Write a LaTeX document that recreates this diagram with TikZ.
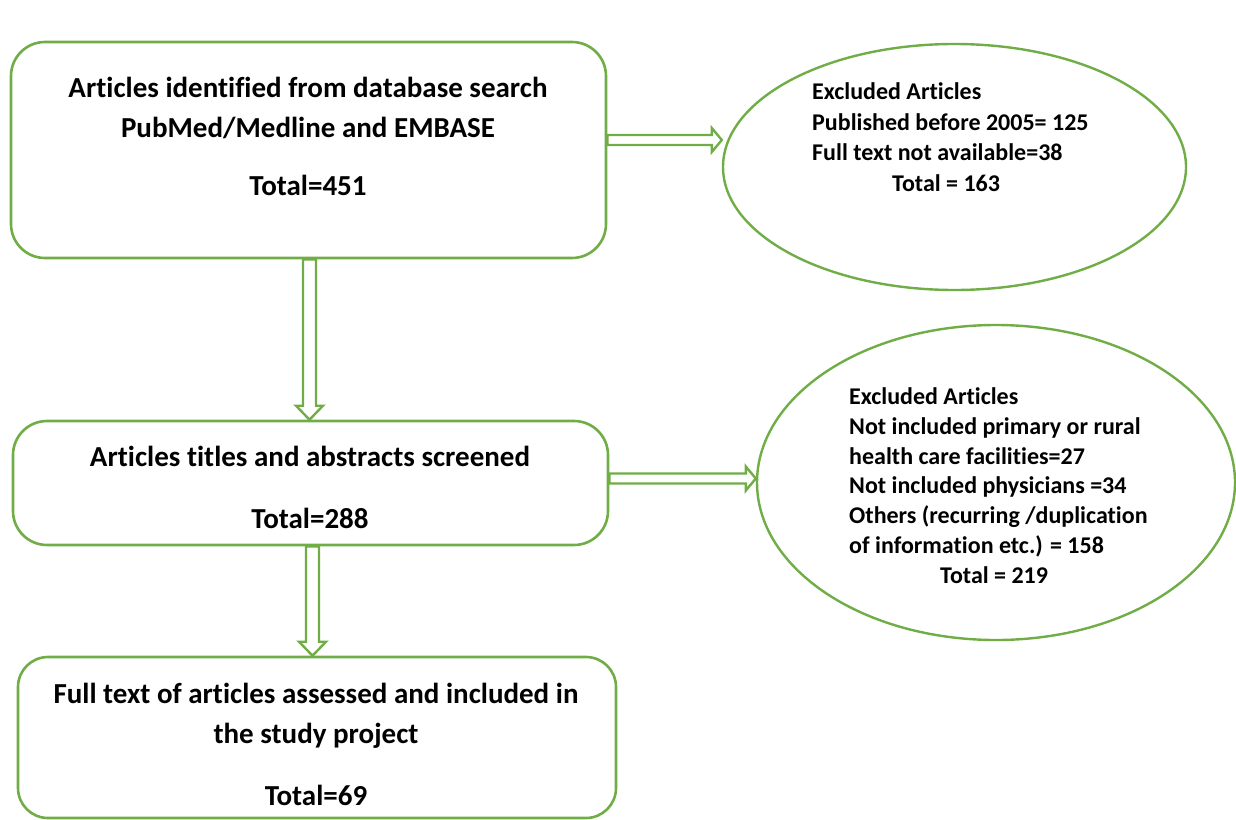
\documentclass[tikz,border=0pt]{standalone}
\usepackage{fontspec}
\setmainfont[Ligatures=NoCommon]{Carlito}
\usetikzlibrary{shapes.geometric,calc}
\definecolor{flowgreen}{RGB}{112,173,71}

% hollow block arrows between two named points
\newcommand{\hollowright}[2]{%
  \draw[hollowarrow] let \p1=(#1), \p2=(#2) in
    (\x1,\y1+5pt) -- (\x2-10pt,\y1+5pt) -- (\x2-10pt,\y1+12pt) -- (\x2,\y1)
    -- (\x2-10pt,\y1-12pt) -- (\x2-10pt,\y1-5pt) -- (\x1,\y1-5pt) -- cycle;}
\newcommand{\hollowdown}[2]{%
  \draw[hollowarrow] let \p1=(#1), \p2=(#2) in
    (\x1-6.5pt,\y1) -- (\x1-6.5pt,\y2+14pt) -- (\x1-13.5pt,\y2+14pt) -- (\x1,\y2)
    -- (\x1+13.5pt,\y2+14pt) -- (\x1+6.5pt,\y2+14pt) -- (\x1+6.5pt,\y1) -- cycle;}

\begin{document}
\begin{tikzpicture}[x=1pt,y=-1pt,
   box/.style={draw=flowgreen,line width=2.6pt,rounded corners=34pt,inner sep=0pt},
   oval/.style={draw=flowgreen,line width=2.4pt,ellipse,inner sep=0pt},
   boxtext/.style={font=\bfseries\fontsize{29}{40}\selectfont,align=center,
                   inner sep=0pt,anchor=north},
   ovaltext/.style={font=\bfseries\fontsize{24}{30.5}\selectfont,align=left,
                    inner sep=0pt,anchor=north west},
   hollowarrow/.style={draw=flowgreen,line width=2.4pt,line join=miter}]
  \useasboundingbox (0,0) rectangle (1236,819);

  % boxes
  \node[box,minimum width=595pt,minimum height=216pt] (ident)  at (308.5,150) {};
  \node[box,minimum width=595pt,minimum height=124pt] (screen) at (310.5,483) {};
  \node[box,minimum width=598pt,minimum height=161pt,rounded corners=30pt] (incl) at (317,737.5) {};

  \node[boxtext] (identtxt) at (308,77) {Articles identified from database search\\
    PubMed/Medline and EMBASE\\[18pt] Total=451};
  \node[boxtext] (screentxt) at (310,446) {Articles titles and abstracts screened\\[22pt]
    Total=288};
  \node[boxtext] (incltxt) at (316,683) {Full text of articles assessed and included in\\
    the study project\\[22pt] Total=69};

  % exclusion ovals
  \node[oval,minimum width=463pt,minimum height=246pt] (excl1) at (954.5,167) {};
  \node[oval,minimum width=478pt,minimum height=315pt] (excl2) at (996,482.5) {};

  \node[ovaltext] (excl1txt) at (812,82.5) {Excluded Articles\\
    Published before 2005= 125\\
    Full text not available=38\\
    \hspace*{80pt}Total = 163};
  \node[ovaltext,font=\bfseries\fontsize{24}{29.8}\selectfont] (excl2txt) at (849,387.5) {Excluded Articles\\
    Not included primary or rural\\
    health care facilities=27\\
    Not included physicians =34\\
    Others (recurring /duplication\\
    of information etc.) = 158\\
    \hspace*{91pt}Total = 219};

  % arrows
  \hollowright{[yshift=10pt]ident.east}{excl1.west}
  \hollowright{[yshift=4.5pt]screen.east}{excl2.west}
  \hollowdown{[xshift=1pt]ident.south}{screen.north}
  \hollowdown{[xshift=2pt]screen.south}{incl.north}
\end{tikzpicture}
\end{document}
